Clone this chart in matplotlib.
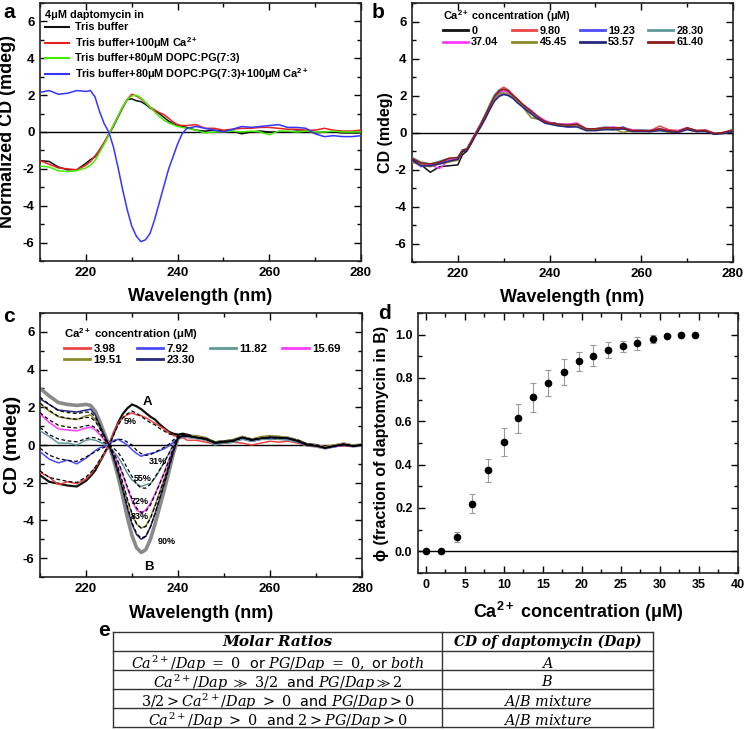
import matplotlib
matplotlib.use('Agg')
import matplotlib.pyplot as plt
from matplotlib.ticker import MultipleLocator, FormatStrFormatter

plt.rcParams.update({
    'font.family': ['Liberation Sans', 'DejaVu Sans'],
    'font.weight': 'normal',
    'axes.labelweight': 'bold',
    'axes.unicode_minus': False,
    'mathtext.fontset': 'custom',
    'mathtext.rm': 'Liberation Sans:bold',
    'mathtext.it': 'Liberation Sans:italic:bold',
    'mathtext.bf': 'Liberation Sans:bold',
})

# ---------------- data ----------------
wl = [210, 212, 214, 216, 218,
      220, 221, 222, 223, 224, 225, 226, 227, 228, 229, 230, 231, 232, 233, 234, 235, 236, 237, 238, 239, 240, 241, 242,
      244, 246, 248, 250, 252, 254, 256, 258, 260, 262, 264, 266, 268, 270, 272, 274, 276, 278, 280]

# panel a
a_labels = ['Tris buffer', 'Tris buffer+100\u03bcM Ca$^{2+}$', 'Tris buffer+80\u03bcM DOPC:PG(7:3)',
            'Tris buffer+80\u03bcM DOPC:PG(7:3)+100\u03bcM Ca$^{2+}$']
a_tris = [-1.55, -1.6, -1.9, -2.05, -2.05,
          -1.7, -1.5, -1.35, -1.0, -0.6, -0.15, 0.3, 0.8, 1.3, 1.75, 1.8, 1.7, 1.65, 1.5, 1.3, 1.15, 1.0, 0.8, 0.6, 0.45, 0.35, 0.3, 0.25,
          0.1, 0.05, 0.1, 0.05, 0.05, -0.1, 0.0, 0.05, 0.0, 0.0, 0.0, 0.05, 0.05, -0.05, 0.0, 0.0, -0.05, -0.05, -0.05]
a_ca = [-1.55, -1.75, -1.95, -2.0, -2.05,
        -1.8, -1.6, -1.3, -0.95, -0.55, -0.1, 0.35, 0.85, 1.35, 1.75, 2.05, 1.95, 1.8, 1.6, 1.35, 1.2, 1.05, 0.95, 0.75, 0.55, 0.4, 0.35, 0.35,
        0.4, 0.2, 0.2, 0.1, 0.15, 0.2, 0.2, 0.25, 0.25, 0.2, 0.15, 0.15, 0.1, 0.1, 0.2, 0.1, 0.05, 0.05, 0.1]
a_lipid = [-1.85, -1.9, -2.1, -2.15, -2.1,
           -1.95, -1.8, -1.55, -1.1, -0.65, -0.15, 0.35, 0.85, 1.35, 1.75, 1.95, 2.0, 1.85, 1.6, 1.35, 1.1, 0.85, 0.65, 0.5, 0.4, 0.3, 0.25, 0.2,
           0.1, -0.05, 0.0, 0.0, 0.05, 0.0, 0.05, 0.0, -0.15, 0.05, 0.05, 0.0, 0.05, 0.0, 0.0, 0.05, 0.0, 0.0, 0.0]
a_both = [2.15, 2.25, 2.05, 2.1, 2.25,
          2.2, 2.25, 1.9, 1.1, 0.45, 0.0, -0.8, -1.9, -3.1, -4.2, -5.1, -5.65, -5.95, -5.85, -5.5, -4.75, -3.85, -2.95, -2.05, -1.35, -0.65, -0.1, 0.2,
          0.3, 0.2, 0.1, 0.0, 0.15, 0.3, 0.25, 0.3, 0.35, 0.4, 0.25, 0.25, 0.2, -0.1, -0.25, -0.2, -0.25, -0.25, -0.2]
a_colors = ['#111111', '#e62020', '#44ee00', '#3535ff']

# panel b
b_conc = ['0', '9.80', '19.23', '28.30', '37.04', '45.45', '53.57', '61.40']
b_colors = ['#111111', '#ee4444', '#4c4cff', '#5f9898', '#ff3cff', '#8b8b2b', '#27277d', '#8b1c1c']
b_0 = [-1.45, -1.75, -2.15, -1.85, -1.8,
       -1.75, -1.2, -1.0, -0.55, -0.05, 0.4, 0.9, 1.4, 1.85, 2.15, 2.3, 2.15, 1.95, 1.75, 1.55, 1.3, 1.05, 0.9, 0.75, 0.6, 0.5, 0.5, 0.4,
       0.35, 0.4, 0.15, 0.2, 0.25, 0.2, 0.25, 0.1, 0.1, 0.1, 0.15, 0.1, 0.05, 0.25, 0.1, 0.1, -0.1, 0.0, 0.1]
b_980 = [-1.6, -1.7, -1.75, -1.6, -1.45,
         -1.5, -1.05, -0.9, -0.45, 0.0, 0.45, 0.95, 1.45, 1.95, 2.3, 2.45, 2.3, 2.05, 1.8, 1.55, 1.35, 1.2, 0.95, 0.75, 0.6, 0.55, 0.5, 0.45,
         0.4, 0.45, 0.2, 0.15, 0.2, 0.25, 0.2, 0.15, 0.1, 0.1, 0.35, 0.15, 0.1, 0.25, 0.1, 0.15, -0.05, 0.0, 0.1]
b_1923 = [-1.5, -1.85, -1.7, -1.65, -1.55,
          -1.4, -1.0, -0.95, -0.5, -0.1, 0.35, 0.8, 1.3, 1.75, 2.0, 2.1, 2.0, 1.85, 1.65, 1.45, 1.3, 1.1, 0.85, 0.7, 0.55, 0.5, 0.45, 0.4,
          0.3, 0.35, 0.15, 0.15, 0.2, 0.15, 0.3, 0.1, 0.1, 0.05, 0.15, 0.05, 0.05, 0.2, 0.05, 0.1, -0.05, -0.05, 0.05]
b_2830 = [-1.35, -1.6, -1.7, -1.55, -1.4,
          -1.35, -0.95, -0.85, -0.4, 0.05, 0.5, 1.0, 1.55, 2.05, 2.3, 2.3, 2.15, 1.95, 1.75, 1.5, 1.3, 1.1, 0.9, 0.75, 0.6, 0.55, 0.5, 0.45,
          0.45, 0.5, 0.2, 0.2, 0.3, 0.25, 0.2, 0.15, 0.15, 0.1, 0.2, 0.1, 0.05, 0.2, 0.1, 0.1, -0.05, 0.0, 0.15]
b_3704 = [-1.55, -1.8, -1.75, -1.95, -1.5,
          -1.45, -1.0, -0.9, -0.45, 0.0, 0.45, 0.9, 1.4, 1.9, 2.2, 2.25, 2.2, 2.0, 1.8, 1.55, 1.35, 1.15, 0.95, 0.8, 0.65, 0.55, 0.5, 0.45,
          0.45, 0.5, 0.2, 0.2, 0.25, 0.3, 0.2, 0.15, 0.1, 0.1, 0.2, 0.1, 0.1, 0.25, 0.1, 0.1, -0.05, 0.0, 0.1]
b_4545 = [-1.6, -1.75, -1.85, -1.7, -1.6,
          -1.5, -1.05, -0.9, -0.45, 0.0, 0.4, 0.85, 1.35, 1.85, 2.1, 2.15, 2.05, 1.9, 1.7, 1.45, 1.1, 0.8, 0.75, 0.7, 0.6, 0.5, 0.45, 0.4,
          0.35, 0.4, 0.15, 0.15, 0.2, 0.2, 0.0, 0.1, 0.1, 0.05, 0.15, 0.0, 0.05, 0.2, 0.05, 0.1, -0.05, -0.05, 0.1]
b_5357 = [-1.5, -1.8, -1.8, -1.7, -1.55,
          -1.45, -1.05, -0.95, -0.55, -0.1, 0.3, 0.75, 1.25, 1.7, 1.95, 2.05, 2.0, 1.85, 1.6, 1.4, 1.2, 1.0, 0.8, 0.65, 0.5, 0.45, 0.4, 0.35,
          0.3, 0.3, 0.1, 0.1, 0.15, 0.15, 0.2, 0.05, 0.05, 0.05, 0.1, 0.05, 0.0, 0.15, 0.05, 0.05, -0.1, -0.05, 0.05]
b_6140 = [-1.4, -1.65, -1.7, -1.6, -1.4,
          -1.35, -0.95, -0.9, -0.45, 0.0, 0.45, 0.95, 1.45, 1.95, 2.25, 2.35, 2.25, 2.0, 1.8, 1.55, 1.35, 1.15, 0.95, 0.75, 0.6, 0.5, 0.5, 0.45,
          0.4, 0.45, 0.2, 0.2, 0.25, 0.25, 0.25, 0.1, 0.1, 0.1, 0.2, 0.1, 0.05, 0.25, 0.1, 0.1, -0.05, 0.0, 0.15]

# panel c
c_A = [-1.6, -1.95, -2.05, -2.15, -2.2,
       -1.9, -1.65, -1.35, -0.9, -0.45, 0.0, 0.6, 1.2, 1.65, 1.95, 2.15, 2.05, 1.9, 1.7, 1.5, 1.35, 1.1, 0.9, 0.7, 0.6, 0.55, 0.6, 0.55,
       0.4, 0.35, 0.15, 0.2, 0.25, 0.4, 0.3, 0.35, 0.4, 0.35, 0.35, 0.25, 0.05, 0.0, -0.15, -0.05, 0.0, -0.05, 0.0]
c_B = [3.0, 2.6, 2.25, 2.15, 2.1,
       2.15, 2.1, 1.8, 1.25, 0.6, 0.0, -0.8, -1.7, -2.75, -3.85, -4.8, -5.45, -5.7, -5.55, -5.0, -4.2, -3.3, -2.4, -1.45, -0.45, 0.35, 0.45, 0.45,
       0.4, 0.3, 0.1, 0.15, 0.2, 0.4, 0.25, 0.35, 0.4, 0.4, 0.35, 0.2, 0.0, -0.05, -0.15, -0.05, 0.05, -0.05, 0.0]
c_conc = ['3.98', '7.92', '11.82', '15.69', '19.51', '23.30']
c_colors = ['#ee4444', '#4c4cff', '#5f9898', '#ff3cff', '#8b8b2b', '#27277d']
c_398 = [-1.45, -1.7, -2.1, -1.95, -2.05,
         -1.8, -1.55, -1.2, -0.85, -0.45, 0.0, 0.7, 1.15, 1.45, 1.6, 1.7, 1.6, 1.55, 1.45, 1.3, 1.15, 1.0, 0.85, 0.65, 0.5, 0.45, 0.4, 0.25,
         0.25, 0.15, 0.05, 0.1, 0.15, 0.1, 0.0, 0.1, 0.2, 0.15, 0.2, 0.1, 0.0, -0.05, -0.1, 0.0, -0.05, 0.0, 0.0]
c_792 = [-0.35, -0.75, -0.95, -0.8, -1.0,
         -0.7, -0.5, -0.3, -0.15, -0.05, 0.0, 0.25, 0.3, 0.15, 0.0, -0.25, -0.45, -0.6, -0.5, -0.45, -0.4, -0.3, -0.2, -0.05, 0.15, 0.35, 0.45, 0.45,
         0.4, 0.3, 0.1, 0.15, 0.2, 0.35, 0.2, 0.3, 0.35, 0.3, 0.3, 0.15, 0.0, 0.0, -0.15, -0.1, 0.0, -0.05, 0.0]
c_1182 = [0.75, 0.45, 0.1, 0.1, 0.0,
          0.25, 0.3, 0.25, 0.15, 0.05, 0.0, -0.35, -0.65, -1.05, -1.5, -1.85, -2.05, -2.2, -2.1, -2.05, -1.75, -1.35, -0.9, -0.45, 0.0, 0.4, 0.5, 0.45,
          0.35, 0.3, 0.0, 0.1, 0.15, 0.3, 0.2, 0.3, 0.3, 0.3, 0.25, 0.15, 0.0, 0.0, -0.15, -0.05, 0.0, 0.0, 0.0]
c_1569 = [1.65, 1.2, 0.85, 0.8, 0.75,
          0.9, 0.95, 0.8, 0.55, 0.25, 0.0, -0.45, -0.95, -1.6, -2.3, -2.95, -3.45, -3.6, -3.45, -3.1, -2.6, -2.05, -1.45, -0.8, -0.15, 0.4, 0.5, 0.5,
          0.45, 0.35, 0.1, 0.2, 0.25, 0.45, 0.3, 0.4, 0.4, 0.4, 0.35, 0.2, 0.0, 0.0, -0.1, -0.05, 0.0, -0.05, 0.0]
c_1951 = [2.2, 1.8, 1.5, 1.4, 1.35,
          1.55, 1.6, 1.35, 0.9, 0.4, 0.0, -0.6, -1.3, -2.1, -2.95, -3.7, -4.2, -4.4, -4.3, -3.85, -3.2, -2.5, -1.8, -1.05, -0.3, 0.4, 0.5, 0.5,
          0.5, 0.4, 0.15, 0.2, 0.3, 0.45, 0.3, 0.45, 0.5, 0.45, 0.4, 0.25, 0.05, 0.0, -0.1, 0.0, 0.05, 0.0, 0.0]
c_2330 = [2.45, 2.15, 1.85, 1.8, 1.75,
          1.85, 1.9, 1.6, 1.05, 0.5, 0.0, -0.7, -1.5, -2.4, -3.35, -4.2, -4.75, -5.0, -4.85, -4.35, -3.65, -2.85, -2.05, -1.2, -0.35, 0.35, 0.5, 0.5,
          0.4, 0.35, 0.1, 0.15, 0.25, 0.4, 0.25, 0.35, 0.4, 0.4, 0.35, 0.2, 0.0, -0.05, -0.15, -0.05, 0.0, -0.05, 0.0]
# fitted A/B mixtures (dashed), labels give fraction in B
fit_labels = ['5%', '31%', '55%', '72%', '83%', '90%']
fit_05 = [-1.37, -1.72, -1.83, -1.93, -1.99,
          -1.7, -1.46, -1.19, -0.79, -0.4, 0.0, 0.53, 1.06, 1.43, 1.66, 1.8, 1.68, 1.52, 1.34, 1.18, 1.07, 0.88, 0.74, 0.59, 0.55, 0.54, 0.59, 0.55,
          0.4, 0.35, 0.15, 0.2, 0.25, 0.4, 0.3, 0.35, 0.4, 0.35, 0.35, 0.25, 0.05, 0.0, -0.15, -0.05, 0.0, -0.05, 0.0]
fit_31 = [-0.17, -0.54, -0.72, -0.82, -0.87,
          -0.64, -0.49, -0.37, -0.23, -0.12, 0.0, 0.17, 0.3, 0.29, 0.15, 0.0, -0.28, -0.46, -0.55, -0.52, -0.37, -0.26, -0.12, 0.03, 0.27, 0.49, 0.55, 0.52,
          0.4, 0.33, 0.13, 0.18, 0.23, 0.4, 0.28, 0.35, 0.4, 0.37, 0.35, 0.23, 0.03, -0.02, -0.15, -0.05, 0.02, -0.05, 0.0]
fit_55 = [0.93, 0.55, 0.32, 0.22, 0.17,
          0.33, 0.41, 0.38, 0.28, 0.13, 0.0, -0.17, -0.4, -0.77, -1.24, -1.67, -2.08, -2.28, -2.29, -2.08, -1.7, -1.32, -0.92, -0.48, 0.02, 0.44, 0.52, 0.5,
          0.4, 0.32, 0.12, 0.17, 0.22, 0.4, 0.27, 0.35, 0.4, 0.38, 0.35, 0.22, 0.02, -0.03, -0.15, -0.05, 0.03, -0.05, 0.0]
fit_72 = [1.71, 1.33, 1.05, 0.95, 0.9,
          1.02, 1.05, 0.92, 0.65, 0.31, 0.0, -0.41, -0.89, -1.52, -2.23, -2.85, -3.35, -3.57, -3.52, -3.18, -2.65, -2.07, -1.48, -0.85, -0.16, 0.41, 0.49, 0.48,
          0.4, 0.31, 0.11, 0.16, 0.21, 0.4, 0.26, 0.35, 0.4, 0.39, 0.35, 0.21, 0.01, -0.04, -0.15, -0.05, 0.04, -0.05, 0.0]
fit_83 = [2.22, 1.83, 1.52, 1.42, 1.37,
          1.46, 1.46, 1.26, 0.88, 0.42, 0.0, -0.56, -1.21, -2.0, -2.86, -3.62, -4.18, -4.41, -4.32, -3.9, -3.26, -2.55, -1.84, -1.08, -0.27, 0.38, 0.48, 0.47,
          0.4, 0.31, 0.11, 0.16, 0.21, 0.4, 0.26, 0.35, 0.4, 0.4, 0.35, 0.2, 0.01, -0.04, -0.15, -0.05, 0.04, -0.05, 0.0]
fit_90 = [2.54, 2.15, 1.82, 1.72, 1.67,
          1.75, 1.73, 1.49, 1.04, 0.5, 0.0, -0.66, -1.41, -2.31, -3.27, -4.11, -4.7, -4.94, -4.83, -4.35, -3.65, -2.86, -2.07, -1.24, -0.35, 0.37, 0.47, 0.46,
          0.4, 0.3, 0.1, 0.15, 0.2, 0.4, 0.25, 0.35, 0.4, 0.4, 0.35, 0.2, 0.0, -0.05, -0.15, -0.05, 0.05, -0.05, 0.0]

# panel d
d_conc = [0, 1.96, 3.97, 5.94, 7.95, 9.96, 11.84, 13.76, 15.7, 17.65, 19.6, 21.45, 23.3, 25.3, 27.1, 29.06, 30.9, 32.7, 34.5]
d_phi = [0, 0, 0.065, 0.22, 0.374, 0.506, 0.614, 0.711, 0.778, 0.828, 0.877, 0.903, 0.929, 0.946, 0.96, 0.98, 0.994, 1.0, 1.0]
d_err = [0, 0, 0.022, 0.043, 0.053, 0.064, 0.068, 0.068, 0.06, 0.061, 0.044, 0.048, 0.038, 0.027, 0.031, 0.017, 0.005, 0.0, 0.0]

# panel e (table)
e_header = ['Molar Ratios', 'CD of daptomycin (Dap)']
e_ratios = [r'$Ca^{2+}/Dap\ =\ 0\ \ \mathsf{or}\ PG/Dap\ =\ 0,\ \mathsf{or}\ both$',
            r'$Ca^{2+}/Dap\ \gg\ 3/2\ \ \mathsf{and}\ PG/Dap \gg 2$',
            r'$3/2 > Ca^{2+}/Dap\ >\ 0\ \ \mathsf{and}\ PG/Dap > 0$',
            r'$Ca^{2+}/Dap\ >\ 0\ \ \mathsf{and}\ 2 > PG/Dap > 0$']
e_cd = [r'$A$', r'$B$', r'$A/B\ mixture$', r'$A/B\ mixture$']

# ---------------- figure ----------------
W, H = 747, 730
fig = plt.figure(figsize=(W / 100, H / 100), dpi=100)


def px_axes(l, t, r, b):
    return fig.add_axes([l / W, 1 - b / H, (r - l) / W, (b - t) / H])


def style(ax, xlim, ylim, xmaj, xmin, ymaj, ymin, fs=9.5):
    ax.set_xlim(*xlim)
    ax.set_ylim(*ylim)
    ax.xaxis.set_major_locator(MultipleLocator(xmaj))
    ax.xaxis.set_minor_locator(MultipleLocator(xmin))
    ax.yaxis.set_major_locator(MultipleLocator(ymaj))
    ax.yaxis.set_minor_locator(MultipleLocator(ymin))
    ax.tick_params(which='both', direction='in', top=True, right=True, width=1, labelsize=fs)
    ax.tick_params(which='major', length=5, pad=4)
    ax.tick_params(which='minor', length=3)
    for s in ax.spines.values():
        s.set_linewidth(1.2)
        s.set_color('#222222')
    ax.axhline(0, color='k', lw=1, zorder=1)


def bold_ticks(ax):
    for t in ax.get_xticklabels() + ax.get_yticklabels():
        t.set_fontweight('bold')


def set_labels(ax, xl, yl, xfs, yfs, xy, yx):
    ax.set_xlabel(xl, fontsize=xfs, fontweight='bold')
    ax.set_ylabel(yl, fontsize=yfs, fontweight='bold')
    ax.xaxis.set_label_coords(0.5, xy)
    ax.xaxis.label.set_va('center')
    ax.yaxis.set_label_coords(yx, 0.5)
    ax.yaxis.label.set_va('center')


def leg_font(size):
    return {'size': size, 'weight': 'bold'}


# ---- a ----
ax = px_axes(40, 3, 361, 261)
style(ax, (210, 280), (-7, 7), 20, 10, 2, 1)
for ys, c, lab in zip([a_tris, a_ca, a_lipid, a_both], a_colors, a_labels):
    ax.plot(wl, ys, color=c, lw=1.1, label=lab, zorder=3)
leg = ax.legend(loc='upper left', bbox_to_anchor=(0.0, 0.995), frameon=False, prop=leg_font(7.8),
                title='4\u03bcM daptomycin in', title_fontproperties=leg_font(7.8), alignment='left',
                handlelength=2.2, handletextpad=0.5, labelspacing=0.24, borderaxespad=0.2, borderpad=0.3)
for l in leg.get_lines():
    l.set_linewidth(1.5)
set_labels(ax, 'Wavelength (nm)', 'Normalized CD (mdeg)', 13, 13, -0.137, -0.1)
bold_ticks(ax)
fig.text(3 / W, 1 - 13 / H, 'a', fontsize=15, fontweight='bold', va='center', ha='left')

# ---- b ----
ax = px_axes(412, 3, 733, 262)
style(ax, (210, 280), (-7, 7), 20, 10, 2, 1)
b_series = [b_0, b_980, b_1923, b_2830, b_3704, b_4545, b_5357, b_6140]
lines = []
for ys, c, lab in zip(b_series, b_colors, b_conc):
    ln, = ax.plot(wl, ys, color=c, lw=1.1, label=lab, zorder=3)
    lines.append(ln)
order = [0, 4, 1, 5, 2, 6, 3, 7]
leg = ax.legend([lines[i] for i in order], [b_conc[i] for i in order], ncol=4,
                loc='upper left', bbox_to_anchor=(0.08, 1.0), frameon=False, prop=leg_font(7.8),
                title='Ca$^{2+}$ concentration (\u03bcM)', title_fontproperties=leg_font(7.8), alignment='left',
                handlelength=2.3, handletextpad=0.3, labelspacing=0.15, columnspacing=1.2,
                borderaxespad=0.2, borderpad=0.3)
for l in leg.get_lines():
    l.set_linewidth(2)
set_labels(ax, 'Wavelength (nm)', 'CD (mdeg)', 13, 11.5, -0.137, -0.084)
bold_ticks(ax)
fig.text(372 / W, 1 - 12 / H, 'b', fontsize=15, fontweight='bold', va='center', ha='left')

# ---- c ----
ax = px_axes(40, 313, 362, 577)
style(ax, (210, 280), (-7, 7), 20, 10, 2, 1)
ax.plot(wl, c_B, color='#8a8a8a', lw=2.6, zorder=2)
ax.plot(wl, c_A, color='#111111', lw=1.6, zorder=3)
c_series = [c_398, c_792, c_1182, c_1569, c_1951, c_2330]
lines = []
for ys, c, lab in zip(c_series, c_colors, c_conc):
    ln, = ax.plot(wl, ys, color=c, lw=1.1, label=lab, zorder=4)
    lines.append(ln)
for ys in [fit_05, fit_31, fit_55, fit_72, fit_83, fit_90]:
    ax.plot(wl, ys, color='k', lw=0.9, ls=(0, (3, 2)), zorder=5)
order = [0, 4, 1, 5, 2, 3]
leg = ax.legend([lines[i] for i in order], [c_conc[i] for i in order], ncol=4,
                loc='upper left', bbox_to_anchor=(0.05, 0.98), frameon=False, prop=leg_font(8.2),
                title='Ca$^{2+}$ concentration (\u03bcM)', title_fontproperties=leg_font(8.2), alignment='left',
                handlelength=2.3, handletextpad=0.3, labelspacing=0.15, columnspacing=1.3,
                borderaxespad=0.2, borderpad=0.5)
for l in leg.get_lines():
    l.set_linewidth(2)
ax.text(233.4, 2.3, 'A', fontsize=9.5, fontweight='bold', ha='center', va='center', zorder=6)
ax.text(233.7, -6.45, 'B', fontsize=9.5, fontweight='bold', ha='center', va='center', zorder=6)
pct_pos = [(229.6, 1.25), (235.7, -0.85), (232.4, -1.8), (231.7, -3.0), (231.6, -3.8), (237.5, -5.1)]
for (x, y), t in zip(pct_pos, fit_labels):
    ax.text(x, y, t, fontsize=6.5, fontweight='bold', ha='center', va='center', zorder=6)
set_labels(ax, 'Wavelength (nm)', 'CD (mdeg)', 13, 14, -0.14, -0.084)
bold_ticks(ax)
fig.text(3 / W, 1 - 316 / H, 'c', fontsize=15, fontweight='bold', va='center', ha='left')

# ---- d ----
ax = px_axes(418, 313, 738, 573)
style(ax, (-1, 40), (-0.1, 1.1), 5, 2.5, 0.2, 0.1, fs=9)
ax.yaxis.set_major_formatter(FormatStrFormatter('%.1f'))
ax.errorbar(d_conc, d_phi, yerr=d_err, fmt='o', color='k', ms=4.5, ecolor='#9a9a9a',
            elinewidth=0.8, capsize=2, capthick=0.8, zorder=4)
set_labels(ax, 'Ca$^{2+}$ concentration (\u03bcM)', '\u03d5 (fraction of daptomycin in B)', 13, 11.5, -0.15, -0.113)
bold_ticks(ax)
fig.text(378 / W, 1 - 313 / H, 'd', fontsize=15, fontweight='bold', va='center', ha='left')

# ---- e (table) ----
axe = fig.add_axes([0, 0, 1, 1])
axe.set_xlim(0, W)
axe.set_ylim(H, 0)
axe.axis('off')
tl, tr, tm = 113, 653, 442
rows = [632, 651, 670, 689, 708, 727]
for y in rows:
    axe.plot([tl, tr], [y, y], color='#333333', lw=1)
for x in [tl, tm, tr]:
    axe.plot([x, x], [rows[0], rows[-1]], color='#333333', lw=1)
c1, c2 = (tl + tm) / 2, (tm + tr) / 2
axe.text(c1, (rows[0] + rows[1]) / 2 + 0.5, e_header[0], family='DejaVu Serif', weight='bold', style='italic',
         fontsize=11, ha='center', va='center')
axe.text(c2, (rows[0] + rows[1]) / 2 + 0.5, e_header[1], family='DejaVu Serif', weight='bold', style='italic',
         fontsize=10, ha='center', va='center')
for i in range(4):
    yc = (rows[i + 1] + rows[i + 2]) / 2
    axe.text(c1, yc + 1, e_ratios[i], math_fontfamily='dejavuserif', fontsize=10.4,
             ha='center', va='center_baseline')
    axe.text(c2, yc + 1, e_cd[i], math_fontfamily='dejavuserif', fontsize=10.4,
             ha='center', va='center_baseline')
fig.text(98 / W, 1 - 631 / H, 'e', fontsize=15, fontweight='bold', va='center', ha='left')

fig.savefig('out.png', dpi=100)
